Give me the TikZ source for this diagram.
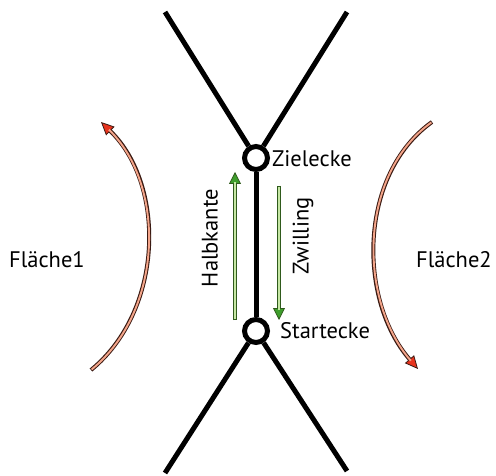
\documentclass[tikz,border=0pt]{standalone}
\usepackage{fontspec}
\setmainfont{PT Sans}
\usetikzlibrary{arrows.meta}
\definecolor{redout}{HTML}{3A1A12}
\definecolor{redin}{HTML}{F4A58A}
\definecolor{redtip}{HTML}{E8341E}
\definecolor{grout}{HTML}{2F5A1C}
\definecolor{grin}{HTML}{C6E7A4}
\definecolor{grtip}{HTML}{3E9E2C}
\tikzset{
  edge/.style={line width=5pt, black},
  vertex/.style={circle, draw=black, line width=5pt, fill=white, minimum size=23pt, inner sep=0pt},
  lbl/.style={font=\fontsize{22.5}{26}\selectfont, inner sep=0pt},
  redarrow/.style={line width=4pt, draw=redout,
    -{Triangle[length=13pt,width=12pt,line width=0.8pt,fill=redtip]},
    postaction={draw=redin, line width=1.9pt, -, shorten >=11pt, shorten <=0.8pt}},
  grarrow/.style={line width=4pt, draw=grout,
    -{Triangle[length=12pt,width=12pt,line width=0.8pt,fill=grtip]},
    postaction={draw=grin, line width=1.8pt, -, shorten >=10pt, shorten <=0.8pt}}
}
\begin{document}
\begin{tikzpicture}[x=1pt,y=-1pt]
\useasboundingbox (0,0) rectangle (496,476);
% vertices
\node[vertex] (zc) at (256,158) {};
\node[vertex] (sc) at (256,331) {};
% edge end points
\coordinate (tl) at (165,12);
\coordinate (tr) at (347,12);
\coordinate (bl) at (165,473);
\coordinate (br) at (347,471);
\draw[edge] (tl) -- (zc);
\draw[edge] (tr) -- (zc);
\draw[edge] (zc) -- (sc);
\draw[edge] (sc) -- (bl);
\draw[edge] (sc) -- (br);
% labels
\node[lbl, anchor=base west] (zl) at (272,167) {Zielecke};
\node[lbl, anchor=base west] (sl) at (280,338) {Startecke};
\node[lbl, anchor=base west] (f1) at (9,268) {Fläche1};
\node[lbl, anchor=base west] (f2) at (416,268) {Fläche2};
\node[lbl, rotate=90] (hk) at (210,238) {Halbkante};
\node[lbl, rotate=90] (zw) at (303,236) {Zwilling};
% green half-edge arrows
\coordinate (h0) at (235,320);
\coordinate (h1) at (235,172);
\coordinate (z0) at (279,186);
\coordinate (z1) at (279,320);
\draw[grarrow] (h0) -- (h1);
\draw[grarrow] (z0) -- (z1);
% red face arrows
\coordinate (a0) at (91,370);
\coordinate (a1) at (101,122);
\coordinate (b0) at (432,122);
\coordinate (b1) at (418,369);
\draw[redarrow] (a0) .. controls (164,310) and (166,185) .. (a1);
\draw[redarrow] (b0) .. controls (358,175) and (358,300) .. (b1);
\end{tikzpicture}
\end{document}
